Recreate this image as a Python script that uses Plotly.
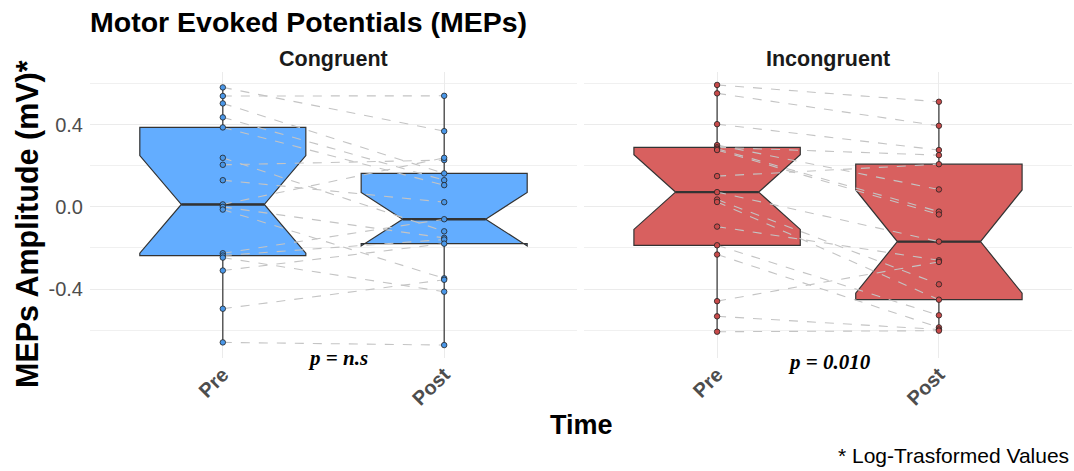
import numpy as np
import plotly.graph_objects as go

# ---------------- data ----------------
time_labels = ["Pre", "Post"]
panels = ["Congruent", "Incongruent"]

congruent_pre = [0.582, 0.540, 0.504, 0.436, 0.387, 0.239, 0.205, 0.130, 0.012,
                 0.000, -0.013, -0.226, -0.237, -0.247, -0.310, -0.496, -0.660]
congruent_post = [0.369, 0.541, 0.163, 0.130, 0.106, -0.119, 0.228, 0.023, 0.239,
                  -0.151, -0.348, -0.060, -0.159, -0.413, -0.179, -0.355, -0.673]

incongruent_pre = [0.594, 0.553, 0.403, 0.301, 0.290, 0.283, 0.277, 0.150, 0.072,
                   0.036, 0.024, -0.096, -0.187, -0.232, -0.459, -0.533, -0.608]
incongruent_post = [0.512, 0.395, 0.277, 0.085, 0.252, -0.023, -0.037, 0.208, -0.169,
                    -0.377, -0.452, -0.260, -0.528, -0.587, -0.268, -0.597, -0.603]

p_labels = ["p = n.s", "p = 0.010"]
y_ticks = [-0.4, 0.0, 0.4]
y_ticktext = ["-0.4", "0.0", "0.4"]
y_minor = [-0.6, -0.2, 0.2, 0.6]

# ---------------- styles ----------------
fills = ["#63ADFF", "#D8605F"]
dots = ["#4A97E8", "#C84A4A"]
outline = "#333333"
box_w = 0.75
notch_w = 0.25
FONT = "Liberation Sans"

fig = go.Figure()
data_sets = [(congruent_pre, congruent_post), (incongruent_pre, incongruent_post)]
xpos = [1, 2]

for k, (pre, post) in enumerate(data_sets):
    xa = "x" if k == 0 else "x2"
    ya = "y" if k == 0 else "y2"
    for j, vals in enumerate([pre, post]):
        fig.add_trace(go.Box(
            y=vals, x=[xpos[j]] * len(vals), xaxis=xa, yaxis=ya,
            width=box_w, notched=True, notchwidth=notch_w,
            quartilemethod="inclusive", boxpoints=False,
            fillcolor=fills[k], line=dict(color=outline, width=1.2),
            whiskerwidth=0, showlegend=False, hoverinfo="skip"))
        med = float(np.median(vals))
        half = box_w / 2 * (1 - 2 * notch_w)
        fig.add_trace(go.Scatter(
            x=[xpos[j] - half, xpos[j] + half], y=[med, med], xaxis=xa, yaxis=ya,
            mode="lines", line=dict(color=outline, width=2.4),
            showlegend=False, hoverinfo="skip"))
    # paired dashed lines
    lx, ly = [], []
    for a, b in zip(pre, post):
        lx += [xpos[0], xpos[1], None]
        ly += [a, b, None]
    fig.add_trace(go.Scatter(x=lx, y=ly, xaxis=xa, yaxis=ya, mode="lines",
                             line=dict(color="#C4C4C4", width=1.1, dash="dash"),
                             showlegend=False, hoverinfo="skip"))
    # points
    px = [xpos[0]] * len(pre) + [xpos[1]] * len(post)
    py = list(pre) + list(post)
    fig.add_trace(go.Scatter(x=px, y=py, xaxis=xa, yaxis=ya, mode="markers",
                             marker=dict(size=5.5, color=dots[k],
                                         line=dict(color="#222222", width=0.8)),
                             showlegend=False, hoverinfo="skip"))

W, H = 1074, 471
xdom1 = [90 / W, 577 / W]
xdom2 = [584 / W, 1072 / W]
ydom = [(H - 358) / H, (H - 72) / H]
yrange = [-0.736, 0.657]

xcommon = dict(range=[0.4, 2.6], tickvals=xpos, ticktext=time_labels, tickangle=-45,
               tickfont=dict(family=FONT, size=20, color="#4D4D4D", weight="bold"),
               showgrid=True, gridcolor="#EBEBEB", gridwidth=1, zeroline=False,
               showline=False, ticks="", fixedrange=True)
ycommon = dict(range=yrange, tickvals=y_ticks, ticktext=y_ticktext,
               tickfont=dict(family=FONT, size=20, color="#4D4D4D"),
               showgrid=True, gridcolor="#EBEBEB", gridwidth=1, zeroline=False,
               showline=False, ticks="", fixedrange=True,
               minor=dict(tickvals=y_minor, showgrid=True, gridcolor="#F0F0F0", gridwidth=0.6),
               domain=ydom)

fig.update_layout(
    width=W, height=H, margin=dict(l=0, r=0, t=0, b=0),
    paper_bgcolor="white", plot_bgcolor="white",
    xaxis=dict(domain=xdom1, anchor="y", **xcommon),
    xaxis2=dict(domain=xdom2, anchor="y2", **xcommon),
    yaxis=dict(anchor="x", ticklabelstandoff=6, **ycommon),
    yaxis2=dict(anchor="x2", showticklabels=False, **ycommon),
)

ann = []
ann.append(dict(text="<b>Motor Evoked Potentials (MEPs)</b>", xref="paper", yref="paper",
                x=88 / W, y=1 - 22 / H, xanchor="left", yanchor="middle", showarrow=False,
                font=dict(family=FONT, size=28.5, color="black")))
for k, name in enumerate(panels):
    dom = xdom1 if k == 0 else xdom2
    ann.append(dict(text="<b>%s</b>" % name, xref="paper", yref="paper",
                    x=(dom[0] + dom[1]) / 2, y=1 - 59 / H, xanchor="center", yanchor="middle",
                    showarrow=False, font=dict(family=FONT, size=21.5, color="#1A1A1A")))
ann.append(dict(text="<b>MEPs Amplitude (mV)*</b>", xref="paper", yref="paper",
                x=27 / W, y=1 - 224 / H, xanchor="center", yanchor="middle", textangle=-90,
                showarrow=False, font=dict(family=FONT, size=30.5, color="black")))
ann.append(dict(text="<b>Time</b>", xref="paper", yref="paper",
                x=581 / W, y=1 - 425 / H, xanchor="center", yanchor="middle",
                showarrow=False, font=dict(family=FONT, size=27, color="black")))
ann.append(dict(text="* Log-Trasformed Values", xref="paper", yref="paper",
                x=1071 / W, y=1 - 455 / H, xanchor="right", yanchor="middle",
                showarrow=False, font=dict(family=FONT, size=21, color="black")))
p_pos = [(1.52, 1 - 358 / H), (1.505, 1 - 362 / H)]
for k, lab in enumerate(p_labels):
    ann.append(dict(text="<b><i>%s</i></b>" % lab, xref="x" if k == 0 else "x2",
                    yref="paper", x=p_pos[k][0], y=p_pos[k][1],
                    xanchor="center", yanchor="middle", showarrow=False,
                    font=dict(family="Liberation Serif", size=21, color="black")))
fig.update_layout(annotations=ann)

fig.write_html("out.html", config={"displayModeBar": False},
               post_script="document.body.style.margin='0';document.body.style.overflow='hidden';")
